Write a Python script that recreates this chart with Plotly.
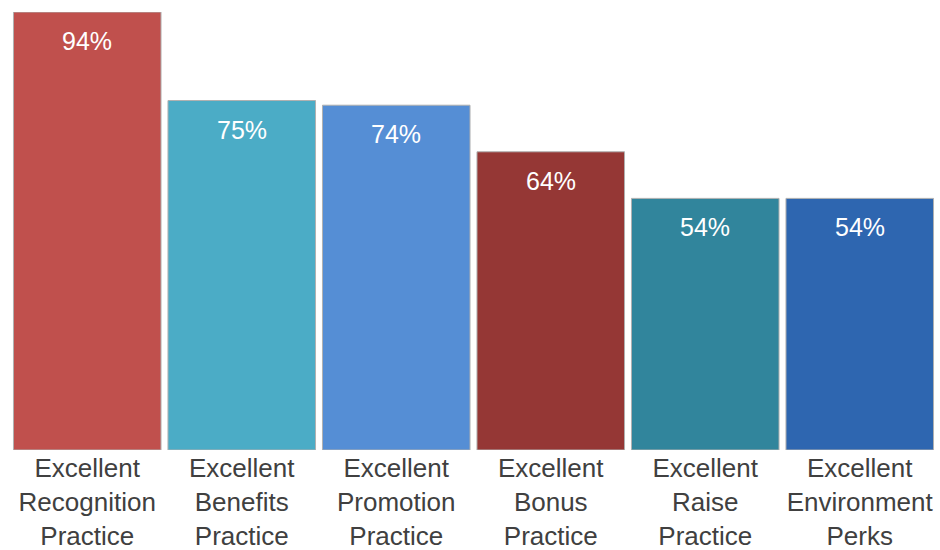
import plotly.graph_objects as go

categories = [
    "Excellent<br>Recognition<br>Practice",
    "Excellent<br>Benefits<br>Practice",
    "Excellent<br>Promotion<br>Practice",
    "Excellent<br>Bonus<br>Practice",
    "Excellent<br>Raise<br>Practice",
    "Excellent<br>Environment<br>Perks",
]
values = [94, 75, 74, 64, 54, 54]
colors = ["#C0504D", "#4BACC6", "#558ED5", "#953735", "#31859C", "#2E66B0"]

FONT = "Liberation Sans, Arial, sans-serif"

fig = go.Figure(
    go.Bar(
        x=categories,
        y=values,
        marker=dict(color=colors, line=dict(color="#B0B0B0", width=1)),
        hoverinfo="skip",
    )
)

# value labels placed just inside the top of each bar
for c, v in zip(categories, values):
    fig.add_annotation(
        x=c, y=v, text=f"{v}%", showarrow=False,
        yanchor="middle", yshift=-29,
        font=dict(family=FONT, size=25, color="white"),
    )

fig.update_layout(
    width=940, height=550,
    margin=dict(l=10, r=3, t=12, b=100),
    plot_bgcolor="white", paper_bgcolor="white",
    bargap=0.045,
    showlegend=False,
    xaxis=dict(
        showline=False, showgrid=False, ticks="", automargin=False,
        tickfont=dict(family=FONT, size=26, color="#404040"),
    ),
    yaxis=dict(range=[0, 94], visible=False, showgrid=False, zeroline=False),
)

fig.write_html("out.html")
